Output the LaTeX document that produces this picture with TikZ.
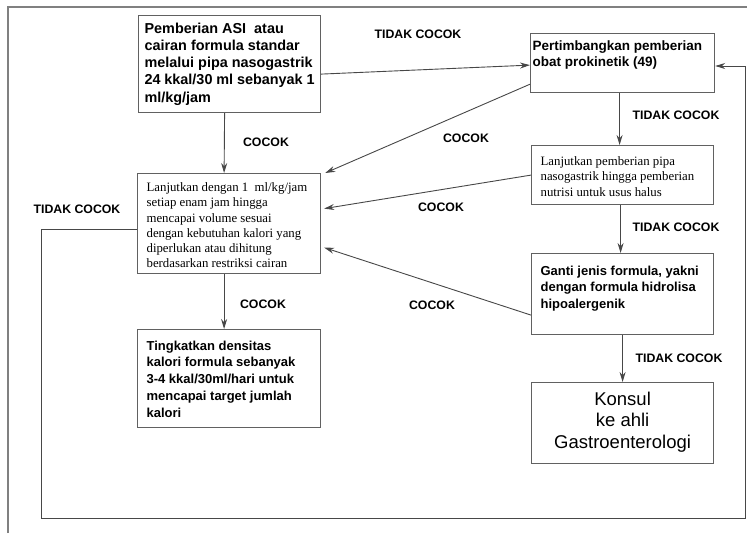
\documentclass[tikz,border=0pt]{standalone}
\usepackage{fontspec}
\setmainfont{Liberation Serif}
\setsansfont{Liberation Sans}
\usetikzlibrary{arrows.meta}

\begin{document}
\begin{tikzpicture}[x=1pt,y=-1pt,
  box/.style={draw=black!62,line width=1.2pt,anchor=north west,inner ysep=0pt},
  bold/.style args={#1/#2}{font=\sffamily\bfseries\fontsize{#1}{#2}\selectfont},
  plain/.style={font=\rmfamily\fontsize{12.8}{15.3}\selectfont},
  big/.style={font=\sffamily\fontsize{18.5}{21.7}\selectfont},
  lbl/.style={font=\sffamily\bfseries\fontsize{12.3}{14}\selectfont,inner sep=1pt},
  conn/.style={draw=black!72,line width=.9pt},
  arr/.style={conn,-{Stealth[length=10pt,width=6pt]}}]
\path[use as bounding box] (0,0) rectangle (747,533);
\draw[black!50,line width=1.6pt] (8,533)--(8,7)--(747,7);

% boxes
\node[box,bold=14.4/17.3,inner xsep=6pt] (asi) at (138,15) {\parbox[c][97pt][t]{170pt}{\raggedright\vspace*{7pt}%
Pemberian ASI\ \ atau\\cairan formula standar\\melalui pipa nasogastrik\\24 kkal/30 ml sebanyak 1\\ml/kg/jam}};
\node[box,bold=13.5/16.5,inner xsep=2pt] (pk) at (530,33) {\parbox[c][59pt][t]{180pt}{\raggedright\vspace*{7pt}%
Pertimbangkan pemberian\\obat prokinetik (49)}};
\node[box,plain,inner xsep=9pt] (cal) at (137,173) {\parbox[c][100pt][t]{165pt}{\raggedright\vspace*{9pt}%
Lanjutkan dengan 1\ \ ml/kg/jam\\setiap enam jam hingga\\mencapai volume sesuai\\dengan kebutuhan kalori yang\\diperlukan atau dihitung\\berdasarkan restriksi cairan}};
\node[box,plain,inner xsep=9pt] (pipa) at (531,145) {\parbox[c][59pt][t]{164pt}{\raggedright\vspace*{11pt}%
Lanjutkan pemberian pipa\\nasogastrik hingga pemberian\\nutrisi untuk usus halus}};
\node[box,bold=13/16.7,inner xsep=9pt] (ganti) at (531,253) {\parbox[c][81pt][t]{164pt}{\raggedright\vspace*{12pt}%
Ganti jenis formula, yakni\\dengan formula hidrolisa\\hipoalergenik}};
\node[box,bold=13/16.9,inner xsep=9pt] (kalori) at (137,329) {\parbox[c][98pt][t]{165pt}{\raggedright\vspace*{11pt}%
Tingkatkan densitas\\kalori formula sebanyak\\3-4 kkal/30ml/hari untuk\\mencapai target jumlah\\kalori}};
\node[box,big,inner xsep=4pt] (konsul) at (531,382) {\parbox[c][81pt][t]{174pt}{\centering\vspace*{9pt}%
Konsul\\ke ahli\\Gastroenterologi}};

% corners of the long way back
\coordinate (lp1) at (41,229);
\coordinate (lp2) at (41,518);
\coordinate (lp3) at (745,518);
\coordinate (lp4) at (745,66);

% connectors
\draw[arr] ([yshift=-10pt]asi.east)--([yshift=-2pt]pk.west);
\draw[arr] ([xshift=-5pt]asi.south)--([xshift=-5pt]cal.north);
\draw[arr] ([xshift=-3pt]pk.south)--([xshift=-3pt]pipa.north);
\draw[arr] ([yshift=9pt]pk.south west)--([xshift=4pt]cal.north east);
\draw[arr] (pipa.west)--([xshift=3pt,yshift=15pt]cal.east);
\draw[arr] ([xshift=-2pt]pipa.south)--([xshift=-2pt]ganti.north);
\draw[arr] ([yshift=-21pt]ganti.west)--([xshift=3pt,yshift=-24pt]cal.east);
\draw[arr] (ganti.south)--(konsul.north);
\draw[arr] ([xshift=-5pt]cal.south)--([xshift=-5pt]kalori.north);
\draw[conn] (cal.west |- lp1)--(lp1)--(lp2)--(lp3)--(lp4);
\draw[arr] (lp4)--(pk.east |- lp4);

% labels
\node[lbl] (t1) at (418,34) {TIDAK COCOK};
\node[lbl] (t2) at (676,115) {TIDAK COCOK};
\node[lbl] (t3) at (676,227) {TIDAK COCOK};
\node[lbl] (t4) at (679,358) {TIDAK COCOK};
\node[lbl] (t5) at (77,209) {TIDAK COCOK};
\node[lbl] (c1) at (266,142) {COCOK};
\node[lbl] (c2) at (466,138) {COCOK};
\node[lbl] (c3) at (441,207) {COCOK};
\node[lbl] (c4) at (432,305) {COCOK};
\node[lbl] (c5) at (263,304) {COCOK};
\end{tikzpicture}
\end{document}
